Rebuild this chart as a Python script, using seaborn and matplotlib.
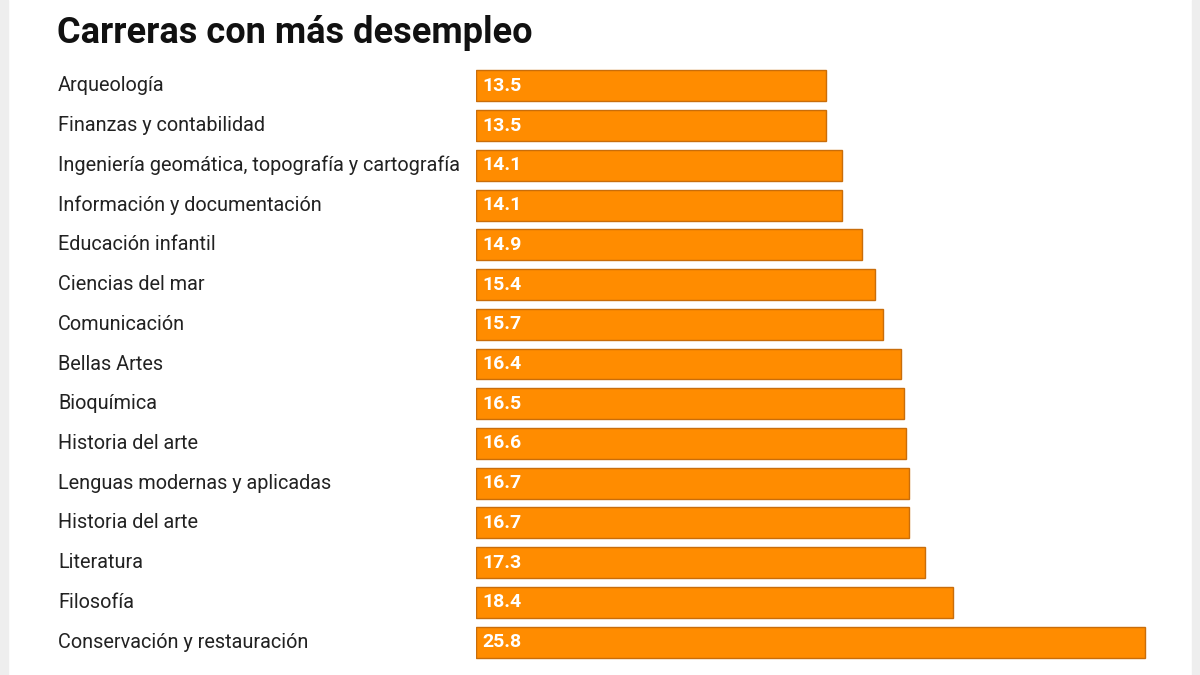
import matplotlib
matplotlib.use("Agg")
import matplotlib.pyplot as plt
import pandas as pd
import seaborn as sns
from matplotlib.patches import Rectangle

# datos
carreras = [
    "Arqueología",
    "Finanzas y contabilidad",
    "Ingeniería geomática, topografía y cartografía",
    "Información y documentación",
    "Educación infantil",
    "Ciencias del mar",
    "Comunicación",
    "Bellas Artes",
    "Bioquímica",
    "Historia del arte",
    "Lenguas modernas y aplicadas",
    "Historia del arte",
    "Literatura",
    "Filosofía",
    "Conservación y restauración",
]
desempleo = [13.5, 13.5, 14.1, 14.1, 14.9, 15.4, 15.7, 16.4, 16.5, 16.6,
             16.7, 16.7, 17.3, 18.4, 25.8]

sns.set_theme(style="white")
plt.rcParams['font.family'] = ['Roboto', 'DejaVu Sans']

# clave unica por fila (hay carreras repetidas)
df = pd.DataFrame({
    'clave': [f"{i}" for i in range(len(carreras))],
    'carrera': carreras,
    'valor': desempleo,
})

fig = plt.figure(figsize=(12, 6.75), dpi=100)
ax = fig.add_axes([476 / 1200, 13 / 675, 700 / 1200, 596 / 675])

sns.barplot(data=df, x='valor', y='clave', orient='h', color='#FF8C00',
            saturation=1, width=0.78, edgecolor='#C96D0A', linewidth=1,
            ax=ax)

ax.set_xlim(0, 27)
ax.set_ylim(14.5, -0.5)
ax.set_xlabel('')
ax.set_ylabel('')
ax.set_xticks([])
ax.set_yticks([])
for s in ax.spines.values():
    s.set_visible(False)

trans = matplotlib.transforms.blended_transform_factory(fig.transFigure, ax.transData)
for i, (nombre, v) in enumerate(zip(carreras, desempleo)):
    ax.text(58 / 1200, i, nombre, transform=trans, ha='left', va='center',
            fontsize=14.3, color='#222222')
    ax.text(0.25, i, f"{v:.1f}", ha='left', va='center', fontsize=14,
            color='white', fontweight='bold')

fig.text(57 / 1200, 1 - 33 / 675, "Carreras con más desempleo", ha='left',
         va='center', fontsize=26, fontweight='bold', color='#111111')

# franjas grises a los lados
fig.patches.append(Rectangle((0, 0), 8 / 1200, 1, transform=fig.transFigure,
                             color='#EEEEEE', zorder=0))
fig.patches.append(Rectangle((1 - 8 / 1200, 0), 8 / 1200, 1,
                             transform=fig.transFigure, color='#EEEEEE', zorder=0))

fig.savefig('out.png', dpi=100)
